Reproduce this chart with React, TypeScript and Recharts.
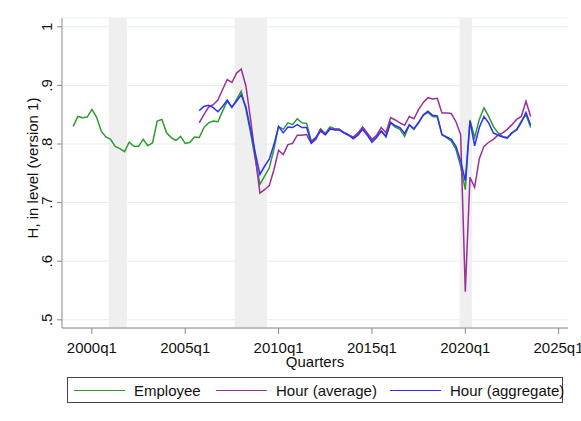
import React from "react";
import { LineChart, Line, XAxis, YAxis, CartesianGrid, ReferenceArea } from "recharts";

// quarter index: 0 = 2000q1
const employeeStart = -4;
const employee = [
  0.83, 0.847, 0.845, 0.846, 0.859, 0.846, 0.822, 0.812, 0.808, 0.796,
  0.792, 0.787, 0.803, 0.796, 0.796, 0.808, 0.797, 0.802, 0.839, 0.842,
  0.819, 0.811, 0.806, 0.813, 0.801, 0.803, 0.812, 0.811, 0.828, 0.836,
  0.839, 0.838, 0.856, 0.873, 0.862, 0.876, 0.89, 0.859, 0.819, 0.774,
  0.731, 0.745, 0.759, 0.791, 0.83, 0.825, 0.836, 0.833, 0.843, 0.836,
  0.835, 0.805, 0.811, 0.826, 0.818, 0.829, 0.826, 0.825, 0.82, 0.816,
  0.811, 0.816, 0.828, 0.816, 0.805, 0.812, 0.822, 0.814, 0.836, 0.829,
  0.825, 0.813, 0.832, 0.825, 0.836, 0.849, 0.854, 0.847, 0.846, 0.816,
  0.811, 0.805, 0.791, 0.762, 0.722, 0.841, 0.811, 0.842, 0.862, 0.847,
  0.83, 0.819, 0.813, 0.811, 0.819, 0.825, 0.839, 0.85, 0.828,
];

const hoursStart = 23;
const hourAverage = [
  0.836, 0.85, 0.863, 0.867, 0.875, 0.893, 0.91, 0.905, 0.921, 0.928,
  0.899, 0.842, 0.779, 0.716, 0.722, 0.729, 0.756, 0.789, 0.782, 0.799,
  0.801, 0.815, 0.815, 0.816, 0.801, 0.808, 0.825, 0.816, 0.825, 0.825,
  0.825, 0.819, 0.815, 0.812, 0.819, 0.829, 0.819, 0.808, 0.815, 0.828,
  0.819, 0.845, 0.841, 0.836, 0.832, 0.847, 0.843, 0.859, 0.871, 0.879,
  0.877, 0.878, 0.853, 0.853, 0.852, 0.838, 0.816, 0.548, 0.743, 0.726,
  0.775, 0.796, 0.803, 0.808, 0.815, 0.819, 0.825, 0.833, 0.842, 0.847,
  0.873, 0.847,
];
const hourAggregate = [
  0.857, 0.864, 0.866, 0.862, 0.855, 0.864, 0.875, 0.863, 0.873, 0.884,
  0.863, 0.825, 0.785, 0.748, 0.762, 0.774, 0.799, 0.83, 0.819, 0.829,
  0.828, 0.833, 0.828, 0.828, 0.802, 0.811, 0.822, 0.816, 0.826, 0.824,
  0.824, 0.819, 0.815, 0.809, 0.815, 0.825, 0.815, 0.803, 0.811, 0.822,
  0.812, 0.837, 0.831, 0.828, 0.818, 0.833, 0.826, 0.837, 0.85, 0.856,
  0.849, 0.848, 0.816, 0.812, 0.808, 0.796, 0.771, 0.737, 0.839, 0.797,
  0.828, 0.847, 0.836, 0.819, 0.815, 0.812, 0.81, 0.819, 0.824, 0.837,
  0.854, 0.832,
];

const recessions = [
  [3.6, 7.5],
  [30.6, 37.5],
  [78.8, 81.4],
];
const xTicks = [0, 20, 40, 60, 80, 100];
const yTicks = [0.5, 0.6, 0.7, 0.8, 0.9, 1];

const GREEN = "#2f9a2f";
const PURPLE = "#9a2f9a";
const BLUE = "#2f2fff";
const AXIS = "#8a8a8a";
const FONT = '"Liberation Sans", Arial, sans-serif';
const FS = 15;

const rows = employee.map((v, i) => {
  const t = employeeStart + i;
  const k = t - hoursStart;
  return {
    t,
    employee: v,
    avg: k >= 0 && k < hourAverage.length ? hourAverage[k] : null,
    agg: k >= 0 && k < hourAggregate.length ? hourAggregate[k] : null,
  };
});

const quarterLabel = (t: number) => `${2000 + Math.floor(t / 4)}q${(t % 4) + 1}`;
const yLabel = (v: number) => (v >= 1 ? "1" : "." + Math.round(v * 10));

const YTick = (props: any) => {
  const { y, payload } = props;
  const x = 52;
  return (
    <text x={x} y={y} transform={`rotate(-90, ${x}, ${y})`} textAnchor="middle" fontSize={FS} fill="#111" fontFamily={FONT}>
      {yLabel(payload.value)}
    </text>
  );
};

const legendItems = [
  { name: "Employee", color: GREEN, left: 6 },
  { name: "Hour (average)", color: PURPLE, left: 148 },
  { name: "Hour (aggregate)", color: BLUE, left: 322 },
];

export default function App() {
  return (
    <div style={{ position: "absolute", left: 0, top: 0, width: 581, height: 421, background: "#fff", fontFamily: FONT }}>
      <LineChart width={581} height={421} data={rows} margin={{ top: 18, right: 13, left: 0, bottom: 63 }}>
        <CartesianGrid horizontal vertical={false} stroke="#e6efef" />
        {recessions.map(([a, b], i) => (
          <ReferenceArea key={i} x1={a} x2={b} fill="#efefef" fillOpacity={1} stroke="none" ifOverflow="hidden" />
        ))}
        <XAxis
          type="number"
          dataKey="t"
          domain={[-6.4, 102]}
          ticks={xTicks}
          tickFormatter={quarterLabel}
          height={30}
          tickSize={6}
          tickMargin={8}
          stroke={AXIS}
          tick={{ fill: "#111", fontSize: FS, fontFamily: FONT }}
          allowDataOverflow
        />
        <YAxis
          type="number"
          domain={[0.486, 1.015]}
          ticks={yTicks}
          width={62}
          tickSize={5}
          stroke={AXIS}
          tick={<YTick />}
          allowDataOverflow
        />
        <Line dataKey="employee" stroke={GREEN} strokeWidth={1.5} dot={false} isAnimationActive={false} />
        <Line dataKey="avg" stroke={PURPLE} strokeWidth={1.5} dot={false} isAnimationActive={false} />
        <Line dataKey="agg" stroke={BLUE} strokeWidth={1.5} dot={false} isAnimationActive={false} />
      </LineChart>

      <div
        style={{
          position: "absolute",
          left: 32,
          top: 168,
          transform: "translate(-50%, -50%) rotate(-90deg)",
          whiteSpace: "nowrap",
          fontSize: FS,
          color: "#111",
        }}
      >
        H, in level (version 1)
      </div>
      <div style={{ position: "absolute", left: 315, top: 361, transform: "translate(-50%, -50%)", fontSize: FS, color: "#111" }}>
        Quarters
      </div>
      <div
        style={{
          position: "absolute",
          left: 67,
          top: 377,
          width: 494,
          height: 24,
          border: "1px solid #444",
          fontSize: FS,
          color: "#111",
        }}
      >
        {legendItems.map((it, i) => (
          <div
            key={i}
            style={{ position: "absolute", left: it.left, top: 0, height: 24, display: "flex", alignItems: "center" }}
          >
            <div style={{ width: 51, height: 0, borderTop: `1.5px solid ${it.color}`, marginRight: 9 }} />
            <span style={{ whiteSpace: "nowrap" }}>{it.name}</span>
          </div>
        ))}
      </div>
    </div>
  );
}
